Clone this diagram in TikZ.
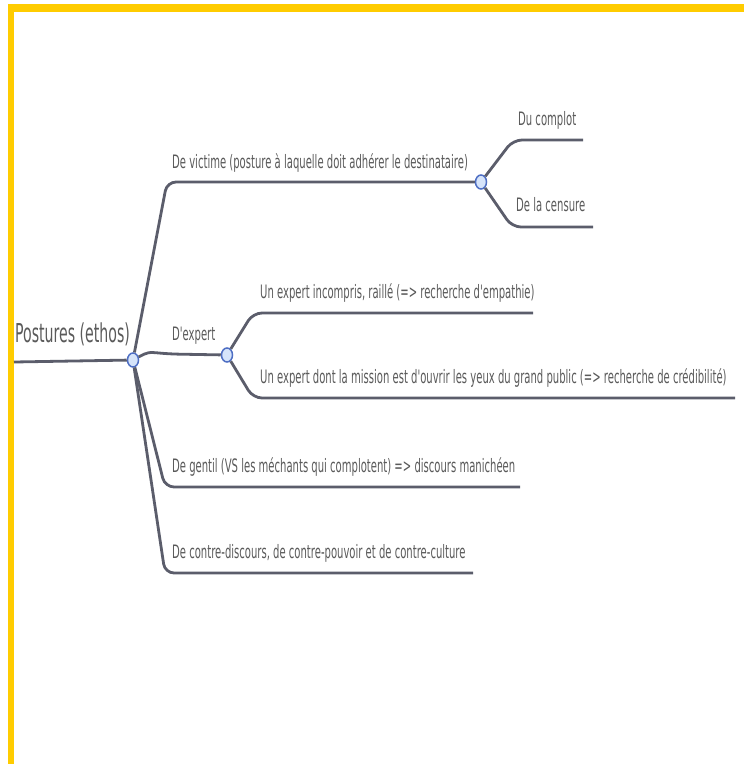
\documentclass[tikz,border=0pt]{standalone}
\usepackage{fontspec}
\newfontfamily\mapfont[FakeStretch=0.543]{DejaVu Sans}
\usetikzlibrary{shapes.geometric}
\definecolor{framegold}{HTML}{FFCC00}
\definecolor{branchgray}{HTML}{5B5D6B}
\definecolor{labelgray}{HTML}{5A5A5A}
\definecolor{knotfill}{HTML}{D6E4FA}
\definecolor{knotblue}{HTML}{4F6FC4}
\tikzset{
  branch/.style={branchgray,line width=2.8pt,rounded corners=9pt},
  knot/.style={ellipse,draw=knotblue,fill=knotfill,line width=1.5pt,
    minimum width=11pt,minimum height=14pt,inner sep=0pt},
  leaf/.style={labelgray,inner sep=0pt,anchor=base west,
    font=\mapfont\fontsize{18.5}{20}\selectfont},
}

\begin{document}
\begin{tikzpicture}[x=1pt,y=-1pt]
  \useasboundingbox (0,0) rectangle (744,764);
  % frame
  \fill[framegold] (8,4) rectangle (14,764);
  \fill[framegold] (8,4) rectangle (744,12);
  % knots
  \node[knot] (k1) at (133,360) {};
  \node[knot] (k2) at (481,182) {};
  \node[knot] (k3) at (227,355) {};
  \coordinate (rootend) at (14,362);
  % first level
  \draw[branch] (rootend) -- (k1);
  \draw[branch] (k1) -- (167,182) -- (k2);
  \draw[branch] (k1) .. controls (148,352) .. (170,354) -- (k3);
  \draw[branch] (k1) -- (165,487) -- (520,487);
  \draw[branch] (k1) -- (165,573) -- (473,573);
  % second level
  \draw[branch] (k2) -- (513,140) -- (583,140);
  \draw[branch] (k2) -- (512,227) -- (593,227);
  \draw[branch] (k3) -- (253,313) -- (533,313);
  \draw[branch] (k3) -- (253,398) -- (735,398);
  % labels
  \node[leaf,font=\mapfont\fontsize{26}{28}\selectfont] (root) at (15,342) {Postures (ethos)};
  \node[leaf] (victim) at (172,168) {De victime (posture à laquelle doit adhérer le destinataire)};
  \node[leaf] (complot) at (518,125) {Du complot};
  \node[leaf] (censure) at (516,211) {De la censure};
  \node[leaf] (expert) at (172,340) {D'expert};
  \node[leaf] (incompris) at (260,298) {Un expert incompris, raillé (=> recherche d'empathie)};
  \node[leaf] (mission) at (260,383) {Un expert dont la mission est d'ouvrir les yeux du grand public (=> recherche de crédibilité)};
  \node[leaf] (gentil) at (172,472) {De gentil (VS les méchants qui complotent) => discours manichéen};
  \node[leaf] (contre) at (172,558) {De contre-discours, de contre-pouvoir et de contre-culture};
\end{tikzpicture}
\end{document}
